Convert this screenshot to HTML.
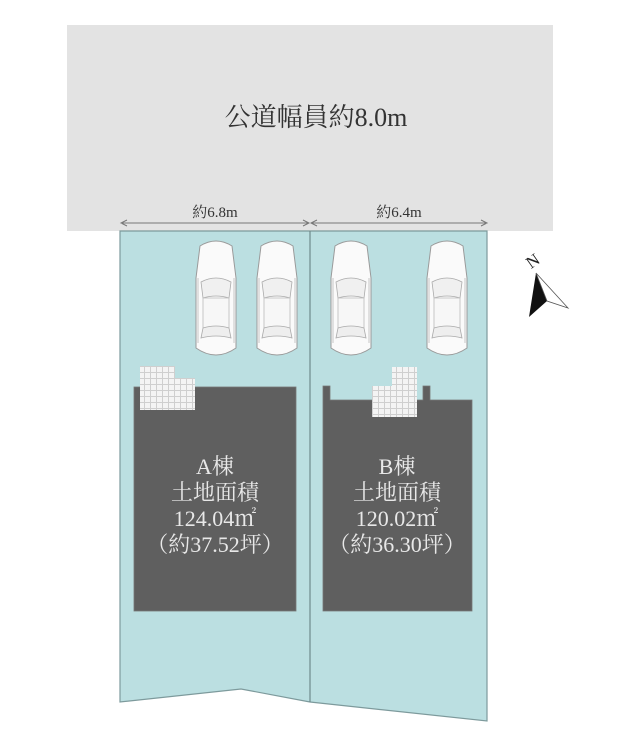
<!DOCTYPE html>
<html><head><meta charset="utf-8"><style>
html,body{margin:0;padding:0;background:#fff;width:629px;height:750px;overflow:hidden}
text{font-family:"Liberation Serif","Noto Serif CJK SC",serif}
</style></head><body>
<svg width="629" height="750" viewBox="0 0 629 750" xmlns="http://www.w3.org/2000/svg">
<defs>
<g id="car">
<path d="M6,8 Q22,-2 38,8 L42,40 L42,110 Q22,124 2,110 L2,40 Z" fill="#fafafa" stroke="#9a9a9a" stroke-width="1"/>
<path d="M7,44 Q22,36 37,44 L35,60 Q22,56 9,60 Z" fill="#f0f0f0" stroke="#aaa" stroke-width="0.8"/>
<path d="M9,60 L35,60 L35,90 L9,90 Z" fill="#f7f7f7" stroke="#bbb" stroke-width="0.8"/>
<path d="M9,90 Q22,86 35,90 L37,100 Q22,96 7,100 Z" fill="#eee" stroke="#aaa" stroke-width="0.8"/>
<path d="M4,40 L4,105 M40,40 L40,105" stroke="#bbb" stroke-width="0.8"/>
</g>
<pattern id="tile" width="6" height="6" patternUnits="userSpaceOnUse">
<rect width="6" height="6" fill="#f4f4f4"/>
<path d="M0,0.5H6M0.5,0V6" stroke="#cfcfcf" stroke-width="1"/>
</pattern>
</defs>
<rect x="67" y="25" width="486" height="206" fill="#e3e3e3"/>
<text x="316" y="126" font-size="26" text-anchor="middle" fill="#333">公道幅員約8.0m</text>
<polygon points="120,231 487,231 487,721 310,702 241,689 120,702" fill="#bbdfe1" stroke="#7d9a9c" stroke-width="1.2"/>
<line x1="310" y1="231" x2="310" y2="702" stroke="#6f8a8c" stroke-width="1.2"/>
<g stroke="#777" stroke-width="1" fill="none">
<line x1="122" y1="223" x2="308" y2="223"/>
<line x1="312" y1="223" x2="486" y2="223"/>
<path d="M127,220 L121,223 L127,226 M303,220 L309,223 L303,226 M317,220 L311,223 L317,226 M481,220 L487,223 L481,226"/>
</g>
<text x="215" y="217" font-size="15" text-anchor="middle" fill="#333">約6.8m</text>
<text x="399" y="217" font-size="15" text-anchor="middle" fill="#333">約6.4m</text>
<use href="#car" x="194" y="238"/>
<use href="#car" x="255" y="238"/>
<use href="#car" x="329" y="238"/>
<use href="#car" x="425" y="238"/>
<rect x="134" y="387" width="162" height="224" fill="#5f5f5f" stroke="#777" stroke-width="0.8"/>
<rect x="140" y="366" width="35" height="14" fill="url(#tile)"/>
<rect x="140" y="378" width="55" height="32" fill="url(#tile)"/>
<polygon points="323,386 330,386 330,400 423,400 423,386 430,386 430,400 472,400 472,611 323,611" fill="#5f5f5f" stroke="#777" stroke-width="0.8"/>
<rect x="392" y="367" width="25" height="19" fill="url(#tile)"/>
<rect x="372" y="386" width="45" height="31" fill="url(#tile)"/>
<g font-size="22" text-anchor="middle" fill="#e8e8e8">
<text x="215" y="474">A棟</text>
<text x="215" y="500">土地面積</text>
<text x="215" y="526">124.04㎡</text>
<text x="215" y="552">（約37.52坪）</text>
<text x="397" y="474">B棟</text>
<text x="397" y="500">土地面積</text>
<text x="397" y="526">120.02㎡</text>
<text x="397" y="552">（約36.30坪）</text>
</g>
<text x="525" y="266" font-size="17" fill="#222" transform="rotate(-35 533 258)">N</text>
<polygon points="536,273 529,317 547,301" fill="#111"/>
<polygon points="536,273 547,301 568,308" fill="#fff" stroke="#555" stroke-width="0.8"/>
</svg>
</body></html>
